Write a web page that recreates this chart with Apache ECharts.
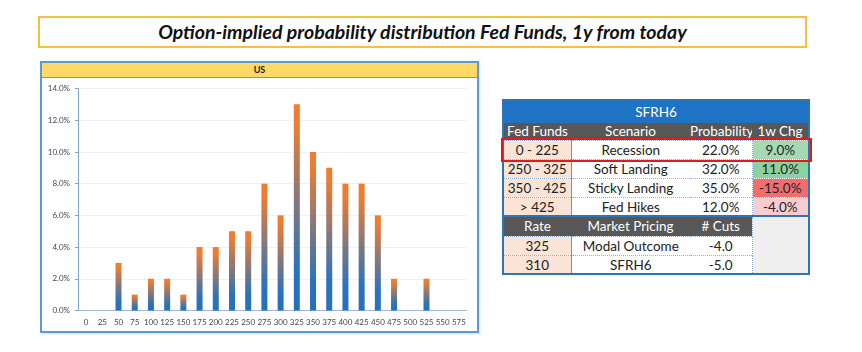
<!DOCTYPE html>
<html>
<head>
<meta charset="utf-8">
<script src="https://cdn.jsdelivr.net/npm/echarts@6.0.0/dist/echarts.min.js"></script>
<style>
  body {
    margin: 0;
    width: 862px;
    height: 352px;
    background: #fff;
    position: relative;
    overflow: hidden;
    font-family: Lato, "Open Sans", sans-serif;
  }
  .title-box {
    position: absolute;
    left: 38px;
    top: 16px;
    width: 765px;
    height: 28px;
    border: 2px solid #f4c03e;
    text-align: center;
    line-height: 28px;
    font-weight: bold;
    font-style: italic;
    font-size: 19.5px;
    color: #111;
  }
  .panel {
    position: absolute;
    left: 40px;
    top: 61px;
    width: 435px;
    height: 268px;
    border: 2px solid #5b9bd5;
    box-shadow: 1px 1px 2px rgba(0, 0, 0, 0.15);
  }
  .panel-head {
    height: 14px;
    background: #ffd966;
    border-bottom: 1px solid #5b9bd5;
    text-align: center;
    font-size: 9px;
    font-weight: bold;
    line-height: 14px;
    color: #222;
  }
  #dist {
    position: absolute;
    left: 0;
    top: 15px;
    width: 435px;
    height: 253px;
  }
  .tbl-wrap {
    position: absolute;
    left: 502px;
    top: 99px;
    width: 304px;
    height: 172px;
    border: 2px solid #2e75b6;
    overflow: hidden;
  }
  table {
    border-collapse: collapse;
    table-layout: fixed;
    width: 304px;
    font-size: 13.5px;
    color: #222;
  }
  td {
    box-sizing: border-box;
    padding: 0;
    line-height: 15px;
    text-align: center;
    white-space: nowrap;
    overflow: hidden;
  }
  .t-title td { background: #1f73c4; color: #fff; height: 22px; }
  .t-head td { background: #575757; color: #fff; height: 17px; }
  .t-row td { height: 19px; border-top: 1px dotted #8fb4dc; padding-top: 2px; }
  .t-row td.ff { background: #fbe4d5; border-right: 1px solid #5b9bd5; }
  .t-row td.chg { border-left: 1px dotted #8fb4dc; }
  .t-row.last td { height: 18px; }
  .t-sub td { background: #575757; color: #fff; height: 20px; border-top: 2px solid #2e75b6; }
  .t-sub td.blank { background: #efefef; border-left: 1px dotted #8fb4dc; }
  .red-box {
    position: absolute;
    left: 501px;
    top: 138px;
    width: 307px;
    height: 20px;
    border: 2px solid #e3191c;
  }
</style>
</head>
<body>
<div class="title-box">Option-implied probability distribution Fed Funds, 1y from today</div>

<div class="panel">
  <div class="panel-head">US</div>
  <div id="dist"></div>
</div>

<div class="tbl-wrap">
  <table id="scen"></table>
</div>
<div class="red-box"></div>

<script>
  // 分布图数据 (单位: %)
  const rateLabels = ["0", "25", "50", "75", "100", "125", "150", "175", "200", "225", "250", "275",
    "300", "325", "350", "375", "400", "425", "450", "475", "500", "525", "550", "575"];
  const probValues = [0, 0, 3, 1, 2, 2, 1, 4, 4, 5, 5, 8, 6, 13, 10, 9, 8, 8, 6, 2, 0, 2, 0, 0];
  const yTicks = { min: 0, max: 14, interval: 2 };

  // 右侧表格数据
  const tableTitle = "SFRH6";
  const headCols = ["Fed Funds", "Scenario", "Probability", "1w Chg"];
  const scenarioRanges = ["0 - 225", "250 - 325", "350 - 425", "> 425"];
  const scenarioNames = ["Recession", "Soft Landing", "Sticky Landing", "Fed Hikes"];
  const scenarioProb = [22.0, 32.0, 35.0, 12.0];
  const weeklyChg = [9.0, 11.0, -15.0, -4.0];
  const subCols = ["Rate", "Market Pricing", "# Cuts"];
  const pricingRates = [325, 310];
  const pricingNames = ["Modal Outcome", "SFRH6"];
  const pricingCuts = [-4.0, -5.0];

  // 1w Chg 单元格底色
  const chgColors = ["#a6d8b2", "#8fd0a0", "#f26d6e", "#f8cdd1"];

  function buildTable() {
    let html = "";
    html += `<colgroup><col style="width:67px"><col style="width:119px"><col style="width:62px"><col style="width:56px"></colgroup>`;
    html += `<tr class="t-title"><td colspan="4">${tableTitle}</td></tr>`;
    html += `<tr class="t-head">${headCols.map((c) => `<td>${c}</td>`).join("")}</tr>`;
    scenarioRanges.forEach((r, i) => {
      html += `<tr class="t-row">
        <td class="ff">${r}</td>
        <td>${scenarioNames[i]}</td>
        <td>${scenarioProb[i].toFixed(1)}%</td>
        <td class="chg" style="background:${chgColors[i]}">${weeklyChg[i].toFixed(1)}%</td>
      </tr>`;
    });
    html += `<tr class="t-sub">${subCols.map((c) => `<td>${c}</td>`).join("")}<td class="blank" rowspan="3"></td></tr>`;
    pricingRates.forEach((r, i) => {
      const cls = i === pricingRates.length - 1 ? "t-row last" : "t-row";
      html += `<tr class="${cls}">
        <td class="ff">${r}</td>
        <td>${pricingNames[i]}</td>
        <td>${pricingCuts[i].toFixed(1)}</td>
      </tr>`;
    });
    document.getElementById("scen").innerHTML = html;
  }

  function getEchart() {
    let myChart = echarts.init(document.getElementById("dist"));
    let option = {
      animation: false,
      grid: {
        left: 36,
        right: 10,
        top: 10.5,
        bottom: 20.5,
      },
      xAxis: {
        type: "category",
        data: rateLabels,
        axisLine: {
          show: true,
          lineStyle: { color: "#9fb8d4", width: 1 },
        },
        axisTick: { show: false },
        axisLabel: {
          color: "#3d4657",
          fontSize: 8,
          fontFamily: "Lato",
          margin: 8,
          interval: 0,
        },
      },
      yAxis: {
        type: "value",
        min: yTicks.min,
        max: yTicks.max,
        interval: yTicks.interval,
        axisLine: {
          show: true,
          lineStyle: { color: "#7ea6cf", width: 1 },
        },
        axisTick: {
          show: true,
          length: 3,
          lineStyle: { color: "#7ea6cf" },
        },
        splitLine: {
          lineStyle: { color: "#eef2f7" },
        },
        axisLabel: {
          color: "#3d4657",
          fontSize: 8,
          fontFamily: "Lato",
          margin: 8,
          formatter: (v) => v.toFixed(1) + "%",
        },
      },
      series: [
        {
          type: "bar",
          data: probValues,
          barWidth: 6,
          itemStyle: {
            // 每根柱子上橙下蓝渐变
            color: new echarts.graphic.LinearGradient(0, 0, 0, 1, [
              { offset: 0, color: "#ef7d2f" },
              { offset: 0.1, color: "#ed7d31" },
              { offset: 0.8, color: "#2a73bd" },
              { offset: 1, color: "#2570bd" },
            ]),
          },
        },
      ],
    };
    myChart.setOption(option, true);
  }

  buildTable();
  getEchart();
</script>
</body>
</html>
